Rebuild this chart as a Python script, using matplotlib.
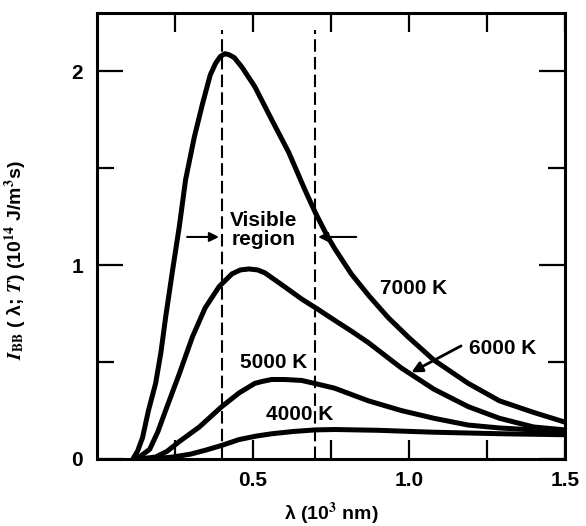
import matplotlib
matplotlib.use("Agg")
import matplotlib.pyplot as plt
from matplotlib.ticker import FixedLocator, NullFormatter

# values (lambda in 10^3 nm, I in 10^14 J/m^3 s)
lam_7000 = [0.115, 0.13, 0.146, 0.165, 0.188, 0.205, 0.22, 0.242, 0.264, 0.284, 0.312,
            0.338, 0.363, 0.38, 0.395, 0.41, 0.423, 0.44, 0.465, 0.506, 0.56, 0.615,
            0.666, 0.70, 0.735, 0.762, 0.815, 0.87, 0.933, 0.997, 1.08, 1.19, 1.29, 1.40, 1.5]
I_7000 = [0.0, 0.04, 0.11, 0.25, 0.39, 0.55, 0.73, 0.97, 1.20, 1.44, 1.66,
          1.83, 1.98, 2.04, 2.075, 2.09, 2.085, 2.07, 2.02, 1.92, 1.75, 1.58,
          1.39, 1.27, 1.16, 1.085, 0.955, 0.845, 0.73, 0.63, 0.51, 0.39, 0.30, 0.24, 0.19]

lam_6000 = [0.115, 0.14, 0.169, 0.195, 0.22, 0.264, 0.306, 0.347, 0.392, 0.433,
            0.46, 0.487, 0.515, 0.538, 0.60, 0.656, 0.71, 0.762, 0.815, 0.87, 0.975,
            1.08, 1.19, 1.29, 1.40, 1.5]
I_6000 = [0.0, 0.015, 0.05, 0.14, 0.25, 0.44, 0.63, 0.78, 0.89, 0.955,
          0.975, 0.98, 0.975, 0.96, 0.89, 0.825, 0.77, 0.715, 0.66, 0.60, 0.47,
          0.36, 0.27, 0.21, 0.165, 0.15]

lam_5000 = [0.115, 0.15, 0.188, 0.225, 0.264, 0.328, 0.40, 0.455, 0.506, 0.53,
            0.56, 0.60, 0.656, 0.71, 0.762, 0.87, 0.975, 1.08, 1.19, 1.29, 1.40, 1.5]
I_5000 = [0.0, 0.003, 0.01, 0.04, 0.09, 0.165, 0.27, 0.34, 0.39, 0.40,
          0.41, 0.41, 0.405, 0.385, 0.365, 0.30, 0.25, 0.21, 0.175, 0.16, 0.15, 0.14]

lam_4000 = [0.13, 0.2, 0.242, 0.3, 0.347, 0.40, 0.455, 0.51, 0.56, 0.63, 0.70,
            0.762, 0.9, 1.08, 1.3, 1.5]
I_4000 = [0.0, 0.004, 0.01, 0.025, 0.045, 0.07, 0.10, 0.118, 0.13, 0.142, 0.15,
          0.152, 0.148, 0.138, 0.13, 0.125]

curves = [(lam_7000, I_7000), (lam_6000, I_6000), (lam_5000, I_5000), (lam_4000, I_4000)]
visible = [0.4, 0.7]

plt.rcParams['font.family'] = ['Liberation Sans', 'DejaVu Sans']
plt.rcParams['font.weight'] = 'bold'
plt.rcParams['mathtext.fontset'] = 'stix'

fig = plt.figure(figsize=(5.86, 5.26), dpi=100)
ax = fig.add_axes([0.1655, 0.1274, 0.7985, 0.8479])

for lam, I in curves:
    ax.plot(lam, I, color='black', lw=3.6, solid_capstyle='butt', solid_joinstyle='round')

for v in visible:
    ax.plot([v, v], [0, 2.21], color='black', lw=1.5, linestyle=(0, (6, 2.5)))

ax.set_xlim(0, 1.5)
ax.set_ylim(0, 2.3)

for s in ax.spines.values():
    s.set_linewidth(2.2)

ax.xaxis.set_major_locator(FixedLocator([0.5, 1.0, 1.5]))
ax.xaxis.set_minor_locator(FixedLocator([0.25, 0.75, 1.25]))
ax.set_xticklabels(['0.5', '1.0', '1.5'])
ax.yaxis.set_major_locator(FixedLocator([0, 1, 2]))
ax.yaxis.set_minor_locator(FixedLocator([0.5, 1.5]))
ax.set_yticklabels(['0', '1', '2'])
ax.xaxis.set_minor_formatter(NullFormatter())
ax.yaxis.set_minor_formatter(NullFormatter())

ax.tick_params(axis='both', which='both', direction='in', top=True, right=True,
               width=1.6, labelsize=15)
ax.tick_params(axis='x', which='both', length=14, pad=9)
ax.tick_params(axis='y', which='major', length=19, pad=10)
ax.tick_params(axis='y', which='minor', length=12)

ax.set_xlabel(r'λ (10$^{\mathbf{3}}$ nm)', fontsize=14, fontweight='bold')
ax.set_ylabel(r'$I_{\mathsf{BB}}$ ( λ; $T$) (10$^{\mathbf{14}}$ J/m$^{\mathbf{3}}$s)',
              fontsize=14, fontweight='bold')
ax.yaxis.set_label_coords(-0.145, 0.446)
ax.xaxis.set_label_coords(0.5, -0.095)

# curve labels
ax.text(1.016, 0.88, '7000 K', ha='center', va='center', fontsize=15)
ax.text(1.30, 0.57, '6000 K', ha='center', va='center', fontsize=15)
ax.text(0.567, 0.50, '5000 K', ha='center', va='center', fontsize=15)
ax.text(0.65, 0.227, '4000 K', ha='center', va='center', fontsize=15)
ax.annotate('', xy=(1.0, 0.44), xytext=(1.175, 0.59),
            arrowprops=dict(arrowstyle='-|>', color='black', lw=2, mutation_scale=16))

# visible region marker
ax.text(0.535, 1.18, 'Visible\nregion', ha='center', va='center', fontsize=15,
        linespacing=1.0)
ax.annotate('', xy=(0.4, 1.145), xytext=(0.28, 1.145),
            arrowprops=dict(arrowstyle='-|>', color='black', lw=1.5, mutation_scale=14))
ax.annotate('', xy=(0.7, 1.145), xytext=(0.84, 1.145),
            arrowprops=dict(arrowstyle='-|>', color='black', lw=1.5, mutation_scale=14))

fig.savefig('out.png', dpi=100)
